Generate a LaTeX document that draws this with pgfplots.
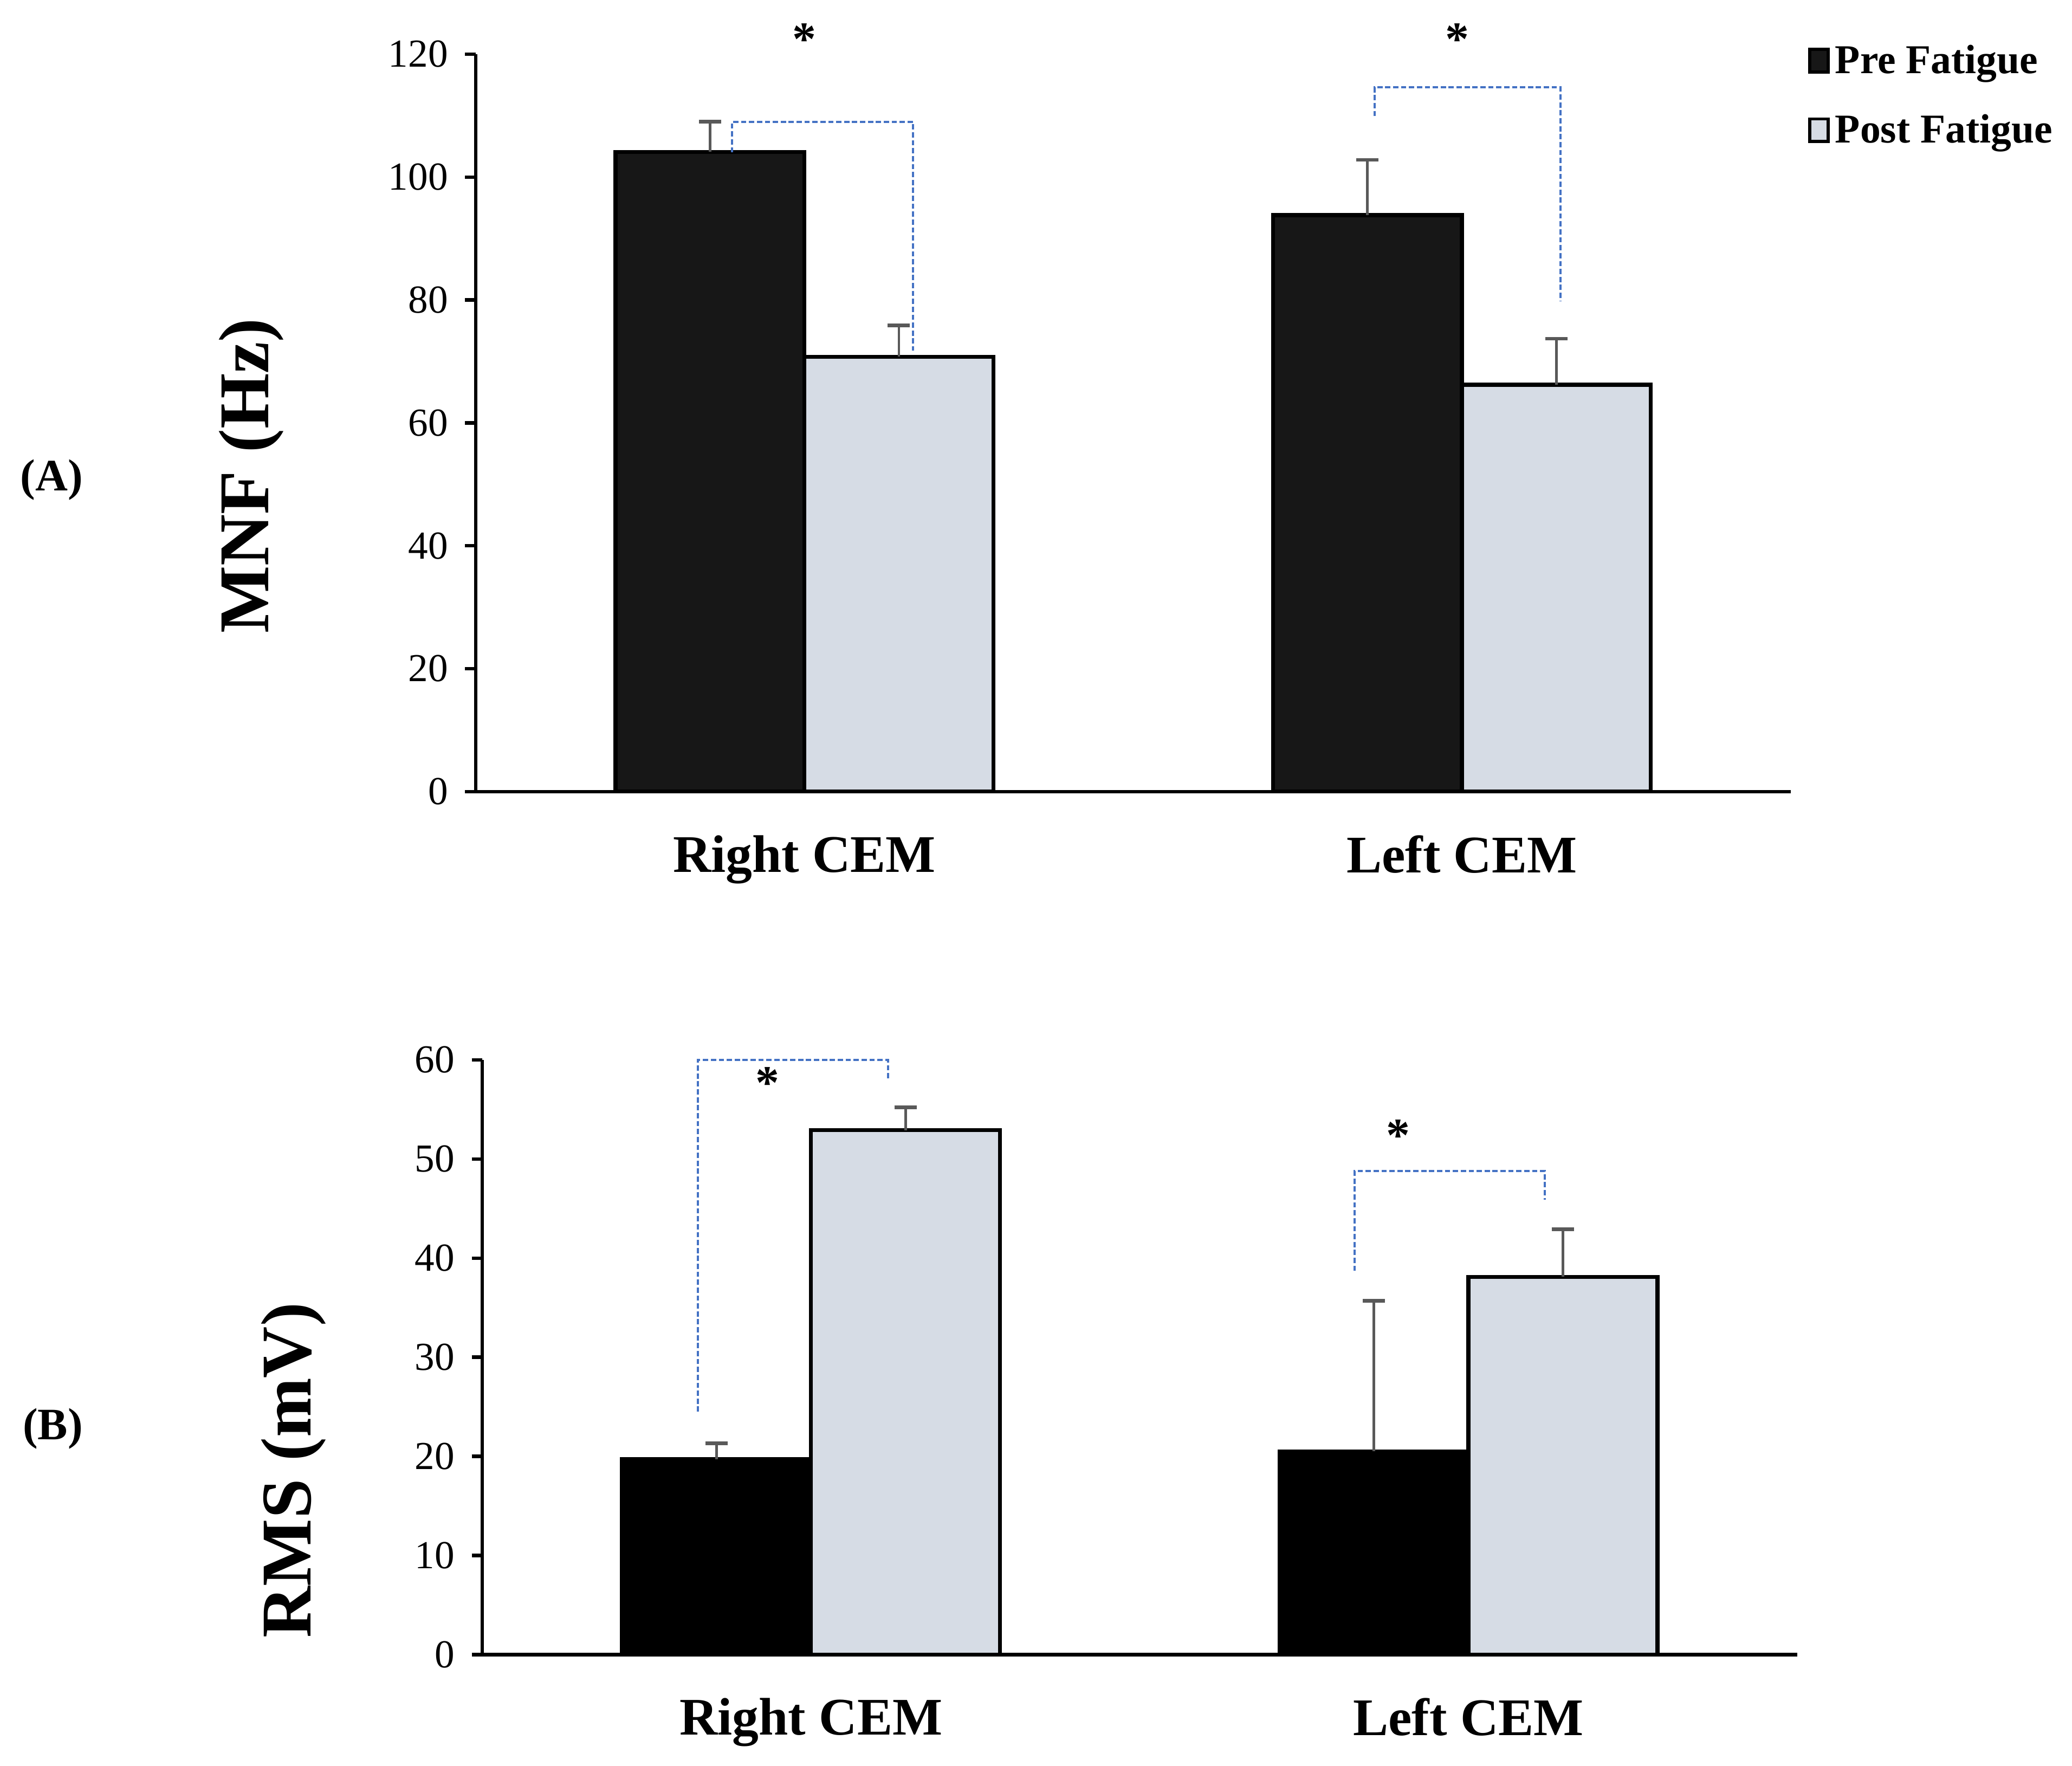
\documentclass[border=0pt]{standalone}
\usepackage{pgfplots}
\pgfplotsset{compat=1.18}
\usepackage{fontspec}
\setmainfont{Liberation Serif}
\definecolor{preA}{HTML}{171717}
\definecolor{preB}{HTML}{000000}
\definecolor{postc}{HTML}{D6DCE5}
\definecolor{errgray}{HTML}{595959}
\definecolor{brk}{HTML}{4472C4}
\pgfplotsset{
  mybase/.style={
    scale only axis, width=497.5pt, xmin=-0.5, xmax=1.5,
    axis lines*=left, axis line style={line width=1.3pt},
    xtick={0,1}, xticklabels={Right CEM, Left CEM},
    xtick style={draw=none},
    x tick label style={font=\fontsize{20}{24}\selectfont\bfseries, yshift=-9pt},
    ytick style={line width=1.3pt, black},
    tick align=outside, major tick length=4pt,
    y tick label style={font=\fontsize{15}{18}\selectfont, xshift=-3pt},
    /pgf/number format/assume math mode=true,
    clip=false,
  },
  sqlegend/.style={legend image code/.code={\draw[##1,line width=1.2pt] (0pt,-4pt) rectangle (7pt,4.5pt);}},
  bars/.style={ybar, bar width=71.5pt, bar shift=0pt, line width=1.5pt, draw=black},
  errs/.style={error bars/.cd, y dir=plus, y explicit, error mark=|,
    error bar style={color=errgray, line width=1pt},
    error mark options={color=errgray, line width=1.4pt, mark size=4.2pt}},
  brk/.style={color=brk, line width=0.8pt, dash pattern=on 2pt off 1pt, sharp plot, mark=none, forget plot},
}
\begin{document}
\begin{tikzpicture}
\useasboundingbox (0,0) rectangle (784pt,668pt);
% ---------- (A) ----------
\begin{axis}[mybase, at={(180pt,368.5pt)}, anchor=south west, height=279pt,
  ymin=0, ymax=120, ytick={0,20,...,120},
  legend style={at={(axis description cs:1.013,1.02)}, anchor=north west, draw=none, fill=none,
    inner sep=0pt, font=\fontsize{15.5}{18}\selectfont\bfseries, row sep=10pt, nodes={inner xsep=2pt}},
  legend cell align=left]
\addplot[bars, fill=preA, sqlegend, errs] coordinates {(-0.1437,104.1) +- (0,4.9) (0.8563,93.8) +- (0,9.0)};
\addlegendentry{Pre Fatigue}
\addplot[bars, fill=postc, sqlegend, errs] coordinates {(0.1437,70.75) +- (0,5.1) (1.1437,66.2) +- (0,7.5)};
\addlegendentry{Post Fatigue}
\addplot[brk] coordinates {(-0.11,104) (-0.11,109) (0.165,109) (0.165,71.8)};
\addplot[brk] coordinates {(0.867,109.9) (0.867,114.6) (1.150,114.6) (1.150,79.8)};
\node[font=\fontsize{18}{20}\selectfont\bfseries, yshift=-2.3pt] at (axis cs:0,123.4) {*};
\node[font=\fontsize{18}{20}\selectfont\bfseries, yshift=-2.3pt] at (axis cs:0.993,123.4) {*};
\end{axis}
% ---------- (B) ----------
\begin{axis}[mybase, at={(182.5pt,42pt)}, anchor=south west, height=225pt,
  ymin=0, ymax=60, ytick={0,10,...,60}]
\addplot[bars, fill=preB, errs] coordinates {(-0.1437,19.7) +- (0,1.6) (0.8563,20.5) +- (0,15.2)};
\addplot[bars, fill=postc, errs] coordinates {(0.1437,52.9) +- (0,2.3) (1.1437,38.1) +- (0,4.8)};
\addplot[brk] coordinates {(-0.172,24.5) (-0.172,60) (0.117,60) (0.117,57.9)};
\addplot[brk] coordinates {(0.827,38.7) (0.827,48.8) (1.116,48.8) (1.116,45.9)};
\node[font=\fontsize{18}{20}\selectfont\bfseries, yshift=-2.3pt] at (axis cs:-0.066,58.3) {*};
\node[font=\fontsize{18}{20}\selectfont\bfseries, yshift=-2.3pt] at (axis cs:0.893,53) {*};
\end{axis}
\node[rotate=90, font=\fontsize{27}{30}\selectfont\bfseries] at (95pt,488pt) {MNF (Hz)};
\node[rotate=90, font=\fontsize{27}{30}\selectfont\bfseries] at (111pt,111.75pt) {RMS (mV)};
\node[font=\fontsize{17}{20}\selectfont\bfseries] at (19.5pt,486.5pt) {(A)};
\node[font=\fontsize{17}{20}\selectfont\bfseries] at (20pt,127.5pt) {(B)};
\end{tikzpicture}
\end{document}
